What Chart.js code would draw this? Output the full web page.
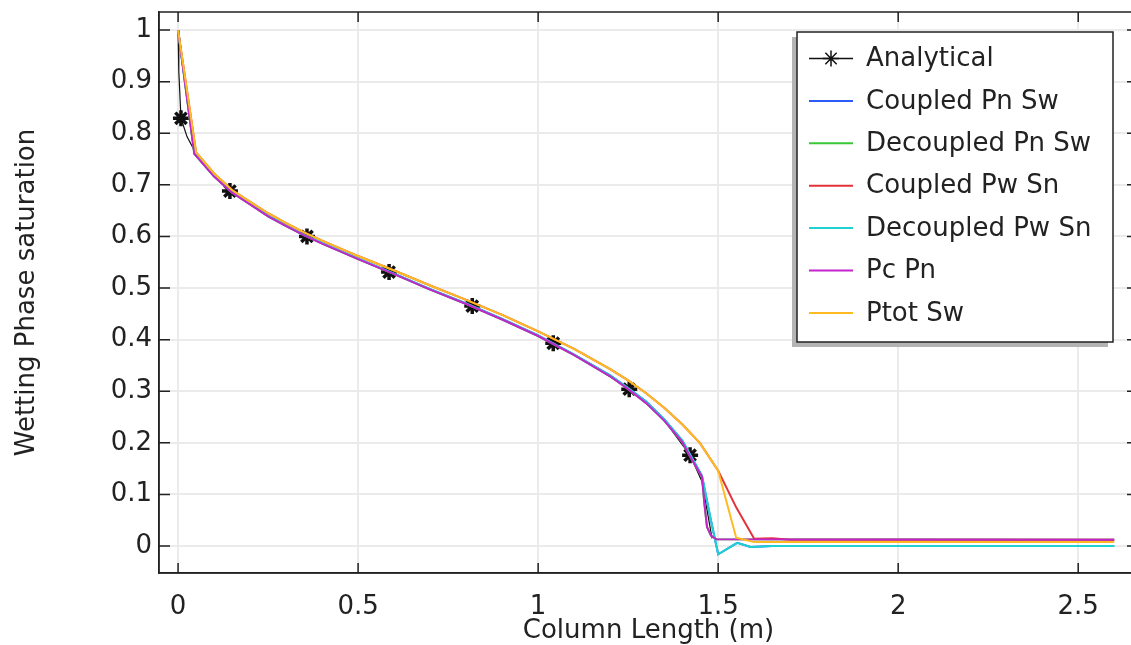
<!DOCTYPE html>
<html>
<head>
<meta charset="utf-8">
<title>Wetting phase saturation along the column</title>
<script src="https://cdn.jsdelivr.net/npm/chart.js@4.4.0/dist/chart.umd.min.js"></script>
<style>
  html, body { margin: 0; padding: 0; background: #fff; overflow: hidden; }
  #wrap { width: 1140px; height: 645px; }
</style>
</head>
<body>
<div id="wrap"><canvas id="satChart" width="1140" height="645"></canvas></div>
<script>
// Analytical solution, stars drawn at the listed indices
const analyticalX = [0, 0.002, 0.008, 0.025, 0.045, 0.08, 0.144, 0.25, 0.358, 0.47, 0.586, 0.7, 0.817, 0.93, 1.042, 1.15, 1.253, 1.34, 1.422, 1.455, 1.483];
const analyticalY = [1.0, 0.92, 0.829, 0.793, 0.767, 0.732, 0.688, 0.640, 0.600, 0.565, 0.531, 0.498, 0.465, 0.430, 0.393, 0.351, 0.304, 0.253, 0.176, 0.125, 0.015];
const analyticalStars = [2, 6, 8, 10, 12, 14, 16, 18];

// Numerical runs (column position in m, saturation)
const coupledPwSnX = [0, 0.05, 0.1, 0.15, 0.2, 0.25, 0.3, 0.35, 0.4, 0.5, 0.6, 0.7, 0.8, 0.9, 1.0, 1.1, 1.2, 1.25, 1.3, 1.35, 1.4, 1.45, 1.5, 1.55, 1.6, 1.65, 1.7, 2.6];
const coupledPwSnY = [1.0, 0.763, 0.722, 0.690, 0.667, 0.645, 0.626, 0.608, 0.592, 0.562, 0.534, 0.505, 0.477, 0.448, 0.416, 0.382, 0.343, 0.321, 0.296, 0.268, 0.236, 0.199, 0.146, 0.075, 0.014, 0.015, 0.012, 0.012];

const ptotSwX = [0, 0.05, 0.1, 0.15, 0.2, 0.25, 0.3, 0.35, 0.4, 0.5, 0.6, 0.7, 0.8, 0.9, 1.0, 1.1, 1.2, 1.25, 1.3, 1.35, 1.4, 1.45, 1.5, 1.55, 1.6, 2.6];
const ptotSwY = [1.0, 0.763, 0.722, 0.690, 0.667, 0.645, 0.626, 0.608, 0.592, 0.562, 0.534, 0.505, 0.477, 0.448, 0.416, 0.382, 0.343, 0.321, 0.296, 0.268, 0.236, 0.199, 0.146, 0.016, 0.008, 0.008];

const decoupledPwSnX = [0, 0.046, 0.1, 0.15, 0.2, 0.25, 0.3, 0.35, 0.4, 0.5, 0.6, 0.7, 0.8, 0.9, 1.0, 1.1, 1.2, 1.25, 1.3, 1.35, 1.4, 1.42, 1.455, 1.478, 1.5, 1.553, 1.59, 1.65, 2.6];
const decoupledPwSnY = [1.0, 0.760, 0.717, 0.686, 0.663, 0.640, 0.621, 0.603, 0.587, 0.557, 0.528, 0.498, 0.470, 0.440, 0.408, 0.371, 0.331, 0.306, 0.280, 0.246, 0.205, 0.180, 0.136, 0.056, -0.016, 0.006, -0.002, 0.0, 0.0];

const pcPnX = [0, 0.045, 0.1, 0.15, 0.2, 0.25, 0.3, 0.35, 0.4, 0.5, 0.6, 0.7, 0.8, 0.9, 1.0, 1.1, 1.2, 1.25, 1.3, 1.35, 1.4, 1.42, 1.455, 1.462, 1.469, 1.48, 1.495, 2.6];
const pcPnY = [1.0, 0.760, 0.716, 0.685, 0.662, 0.639, 0.620, 0.602, 0.586, 0.556, 0.527, 0.497, 0.469, 0.439, 0.407, 0.370, 0.329, 0.304, 0.277, 0.243, 0.202, 0.176, 0.134, 0.080, 0.037, 0.020, 0.013, 0.012];

// Pn-Sw runs sit under the Pw-Sn / Pc-Pn curves
const coupledPnSwX = decoupledPwSnX;
const coupledPnSwY = decoupledPwSnY;
const decoupledPnSwX = pcPnX;
const decoupledPnSwY = pcPnY;

const xTickStep = 0.5;
const yTickStep = 0.1;

const FONT = "'DejaVu Sans', 'Liberation Sans', sans-serif";
const INK = '#222';

const pts = (xs, ys) => xs.map((x, i) => ({ x: x, y: ys[i] }));
const starRadius = analyticalX.map((_, i) => analyticalStars.includes(i) ? 8 : 0);

function series(label, color, xs, ys, order) {
  return {
    label: label,
    data: pts(xs, ys),
    borderColor: color,
    backgroundColor: color,
    borderWidth: 2,
    pointRadius: 0,
    tension: 0,
    fill: false,
    order: order
  };
}

const datasets = [
  {
    label: 'Analytical',
    data: pts(analyticalX, analyticalY),
    borderColor: '#111',
    backgroundColor: '#111',
    borderWidth: 1.2,
    pointStyle: 'star',
    pointRadius: starRadius,
    pointBorderWidth: 3.5,
    pointBorderColor: '#111',
    tension: 0,
    fill: false,
    order: 6
  },
  series('Coupled Pn Sw', '#2c5cf5', coupledPnSwX, coupledPnSwY, 5),
  series('Decoupled Pn Sw', '#38c838', decoupledPnSwX, decoupledPnSwY, 4),
  series('Coupled Pw Sn', '#e2333a', coupledPwSnX, coupledPwSnY, 3),
  series('Decoupled Pw Sn', '#1ed2d2', decoupledPwSnX, decoupledPwSnY, 2),
  series('Pc Pn', '#c424cc', pcPnX, pcPnY, 1),
  series('Ptot Sw', '#ffbb22', ptotSwX, ptotSwY, 0)
];

// frame on all four sides, inward tick marks and the boxed legend
const framePlugin = {
  id: 'frame',
  afterDraw(chart) {
    const { ctx, chartArea: a, scales } = chart;
    const sx = scales.x, sy = scales.y;
    ctx.save();
    ctx.strokeStyle = INK;
    ctx.lineWidth = 1.5;
    ctx.strokeRect(a.left, a.top, a.right - a.left, a.bottom - a.top);
    ctx.beginPath();
    sx.ticks.forEach(t => {
      const px = sx.getPixelForValue(t.value);
      ctx.moveTo(px, a.bottom); ctx.lineTo(px, a.bottom - 10);
      ctx.moveTo(px, a.top); ctx.lineTo(px, a.top + 10);
    });
    sy.ticks.forEach(t => {
      const py = sy.getPixelForValue(t.value);
      ctx.moveTo(a.left, py); ctx.lineTo(a.left + 11, py);
      ctx.moveTo(a.right, py); ctx.lineTo(a.right - 11, py);
    });
    ctx.stroke();

    // legend box with drop shadow
    const bx = 797, by = 32, bw = 316, bh = 310;
    ctx.fillStyle = '#b4b4b4';
    ctx.fillRect(bx - 5, by + 5, bw, bh);
    ctx.fillStyle = '#fff';
    ctx.fillRect(bx, by, bw, bh);
    ctx.lineWidth = 1.5;
    ctx.strokeStyle = INK;
    ctx.strokeRect(bx, by, bw, bh);

    ctx.font = '26px ' + FONT;
    ctx.textBaseline = 'middle';
    ctx.textAlign = 'left';
    chart.data.datasets.forEach((ds, i) => {
      const ly = 58.5 + i * 42.4;
      ctx.strokeStyle = ds.borderColor;
      ctx.lineWidth = i === 0 ? 1.5 : 2;
      ctx.beginPath();
      ctx.moveTo(809, ly); ctx.lineTo(853, ly);
      ctx.stroke();
      if (i === 0) {
        ctx.strokeStyle = '#111';
        ctx.fillStyle = '#111';
        Chart.helpers.drawPoint(ctx, { pointStyle: 'star', radius: 8, borderWidth: 3.5, rotation: 0 }, 831, ly);
      }
      ctx.fillStyle = INK;
      ctx.fillText(ds.label, 866, ly + 1);
    });
    ctx.restore();
  }
};

const fmt = v => Math.abs(v) < 1e-9 ? '0' : String(+v.toFixed(2));

// keep the plot area fixed: no extra room for overhanging tick labels
function noOverhang(s) {
  s.paddingTop = 0;
  s.paddingBottom = 0;
  s.paddingLeft = 0;
  s.paddingRight = 0;
}

new Chart(document.getElementById('satChart').getContext('2d'), {
  type: 'line',
  data: { datasets: datasets },
  plugins: [framePlugin],
  options: {
    responsive: false,
    animation: false,
    layout: { padding: { top: 12, right: 2, left: 0, bottom: 0 } },
    plugins: {
      legend: { display: false },
      tooltip: { enabled: false }
    },
    scales: {
      x: {
        type: 'linear',
        min: -0.053,
        max: 2.666,
        ticks: {
          stepSize: xTickStep,
          includeBounds: false,
          autoSkip: false,
          maxRotation: 0,
          padding: 19,
          color: INK,
          font: { family: FONT, size: 26 },
          callback: fmt
        },
        grid: { color: '#ebebeb', lineWidth: 2, drawTicks: false },
        border: { color: INK, width: 1.5 },
        title: {
          display: true,
          text: 'Column Length (m)',
          color: INK,
          font: { family: FONT, size: 26 },
          padding: { top: 0, bottom: -2 }
        },
        afterFit: s => { s.height = 72; noOverhang(s); }
      },
      y: {
        type: 'linear',
        min: -0.0523,
        max: 1.035,
        ticks: {
          stepSize: yTickStep,
          includeBounds: false,
          autoSkip: false,
          padding: 7,
          color: INK,
          font: { family: FONT, size: 26 },
          callback: fmt
        },
        grid: { color: '#ebebeb', lineWidth: 2, drawTicks: false },
        border: { color: INK, width: 1.5 },
        title: {
          display: true,
          text: 'Wetting Phase saturation',
          color: INK,
          font: { family: FONT, size: 26 },
          padding: { top: 12, bottom: 0 }
        },
        afterFit: s => { s.width = 159; noOverhang(s); }
      }
    }
  }
});
</script>
</body>
</html>
